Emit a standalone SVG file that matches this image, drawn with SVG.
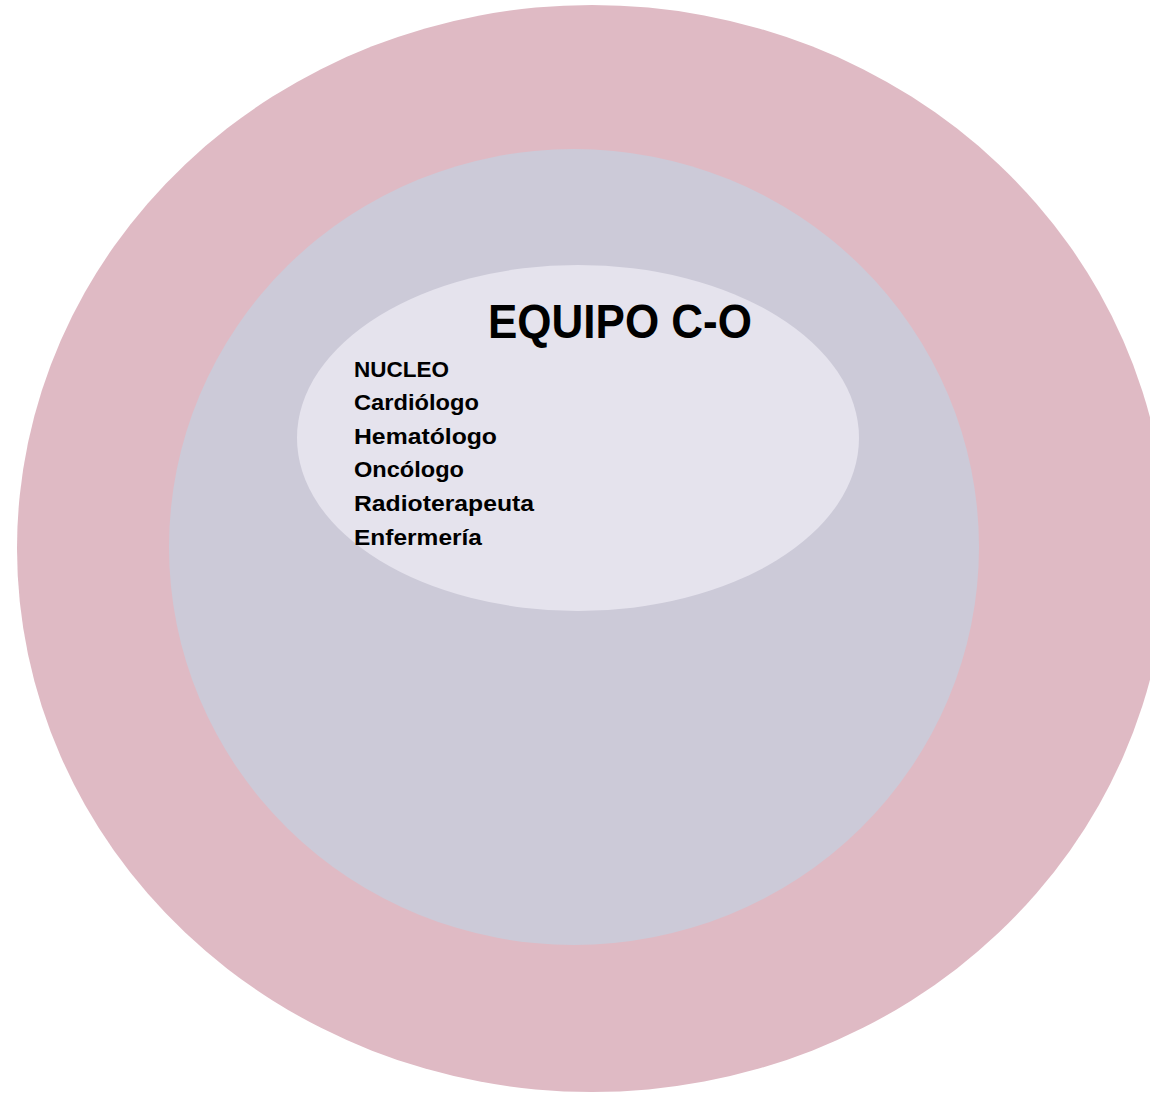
<svg xmlns="http://www.w3.org/2000/svg" width="1150" height="1093" viewBox="0 0 1150 1093">
<style>
.t{font-family:"Liberation Sans","Open Sans",sans-serif;font-weight:bold;fill:#000}
.title{font-size:49px}
.item{font-size:22px}
</style>
<rect width="1150" height="1093" fill="#ffffff"/>
<g id="outer"><ellipse cx="592" cy="548.5" rx="575" ry="543.5" fill="#DFBAC4"/></g>
<g id="middle"><ellipse cx="574" cy="547" rx="405" ry="398" fill="#CCCAD8"/></g>
<g id="inner">
<ellipse cx="578" cy="438" rx="281" ry="173" fill="#E5E3ED"/>
<text class="t title" x="488" y="338" textLength="264" lengthAdjust="spacingAndGlyphs">EQUIPO C-O</text>
<text class="t item" x="354" y="377" textLength="95" lengthAdjust="spacingAndGlyphs">NUCLEO</text>
<text class="t item" x="354" y="410" textLength="125" lengthAdjust="spacingAndGlyphs">Cardiólogo</text>
<text class="t item" x="354" y="444" textLength="143" lengthAdjust="spacingAndGlyphs">Hematólogo</text>
<text class="t item" x="354" y="477" textLength="110" lengthAdjust="spacingAndGlyphs">Oncólogo</text>
<text class="t item" x="354" y="511" textLength="180" lengthAdjust="spacingAndGlyphs">Radioterapeuta</text>
<text class="t item" x="354" y="545" textLength="128" lengthAdjust="spacingAndGlyphs">Enfermería</text>
</g>
<g id="connectors"></g>
</svg>
